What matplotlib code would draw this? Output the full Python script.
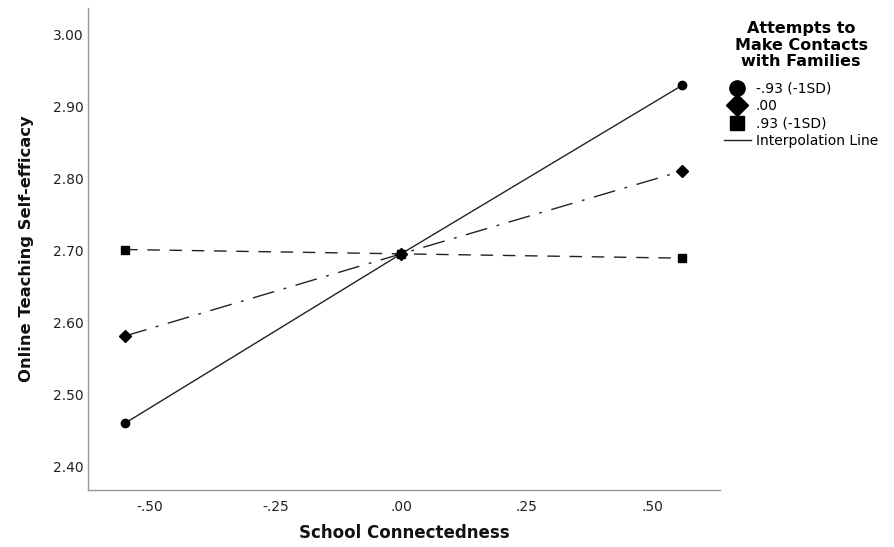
import matplotlib
matplotlib.use("Agg")
import matplotlib.pyplot as plt
from matplotlib.lines import Line2D

plt.rcParams['font.family'] = ['DejaVu Sans']

# Data
x_values = [-0.55, 0.0, 0.56]
low_values = [2.460, 2.695, 2.929]      # -.93 (-1SD)
mean_values = [2.581, 2.695, 2.810]     # .00
high_values = [2.701, 2.695, 2.689]     # .93 (-1SD)
series_labels = ['-.93 (-1SD)', '.00', '.93 (-1SD)']
x_ticks = [-0.50, -0.25, 0.00, 0.25, 0.50]
x_tick_labels = ['-.50', '-.25', '.00', '.25', '.50']
y_ticks = [2.40, 2.50, 2.60, 2.70, 2.80, 2.90, 3.00]
y_tick_labels = ['2.40', '2.50', '2.60', '2.70', '2.80', '2.90', '3.00']

fig = plt.figure(figsize=(8.95, 5.47), dpi=100)
ax = fig.add_axes([0.0983, 0.104, 0.706, 0.881])

col = '#222222'
ax.plot(x_values, low_values, linestyle='-', color=col, lw=1.0,
        marker='o', ms=6, mfc='black', mec='black')
ax.plot(x_values, mean_values, linestyle=(0, (16, 7, 2, 7)), color=col, lw=1.0,
        marker='D', ms=6.5, mfc='black', mec='black')
ax.plot(x_values, high_values, linestyle=(0, (9, 7)), color=col, lw=1.0,
        marker='s', ms=6, mfc='black', mec='black')

ax.set_xlim(-0.624, 0.635)
ax.set_ylim(2.367, 3.036)
ax.set_xticks(x_ticks)
ax.set_xticklabels(x_tick_labels)
ax.set_yticks(y_ticks)
ax.set_yticklabels(y_tick_labels)
ax.tick_params(length=0, labelsize=10, colors='#222222')
ax.tick_params(axis='y', pad=3)
ax.tick_params(axis='x', pad=7)
for s in ['top', 'right']:
    ax.spines[s].set_visible(False)
for s in ['left', 'bottom']:
    ax.spines[s].set_color('#999999')
    ax.spines[s].set_linewidth(1.0)

ax.set_xlabel('School Connectedness', fontsize=12, fontweight='bold', labelpad=7, color='#111111')
ax.set_ylabel('Online Teaching Self-efficacy', fontsize=11.8, fontweight='bold', labelpad=14, color='#111111')

handles = [
    Line2D([], [], linestyle='none', marker='o', ms=11, color='black'),
    Line2D([], [], linestyle='none', marker='D', ms=11, color='black'),
    Line2D([], [], linestyle='none', marker='s', ms=10, color='black'),
    Line2D([], [], linestyle='-', lw=1.0, color='#222222'),
]
labels = series_labels + ['Interpolation Line']
leg = fig.legend(handles, labels, loc='upper center', bbox_to_anchor=(0.895, 0.962),
                 frameon=False, fontsize=10, handlelength=1.9, handletextpad=0.36,
                 labelspacing=0.25, borderaxespad=0, borderpad=0,
                 title='Attempts to\nMake Contacts\nwith Families',
                 title_fontproperties={'weight': 'bold', 'size': 11.5})
leg.get_title().set_linespacing(1.15)
leg.get_title().set_multialignment('center')
leg._legend_box.align = 'center'
leg._legend_box.sep = 9

fig.savefig('out.png', dpi=100)
